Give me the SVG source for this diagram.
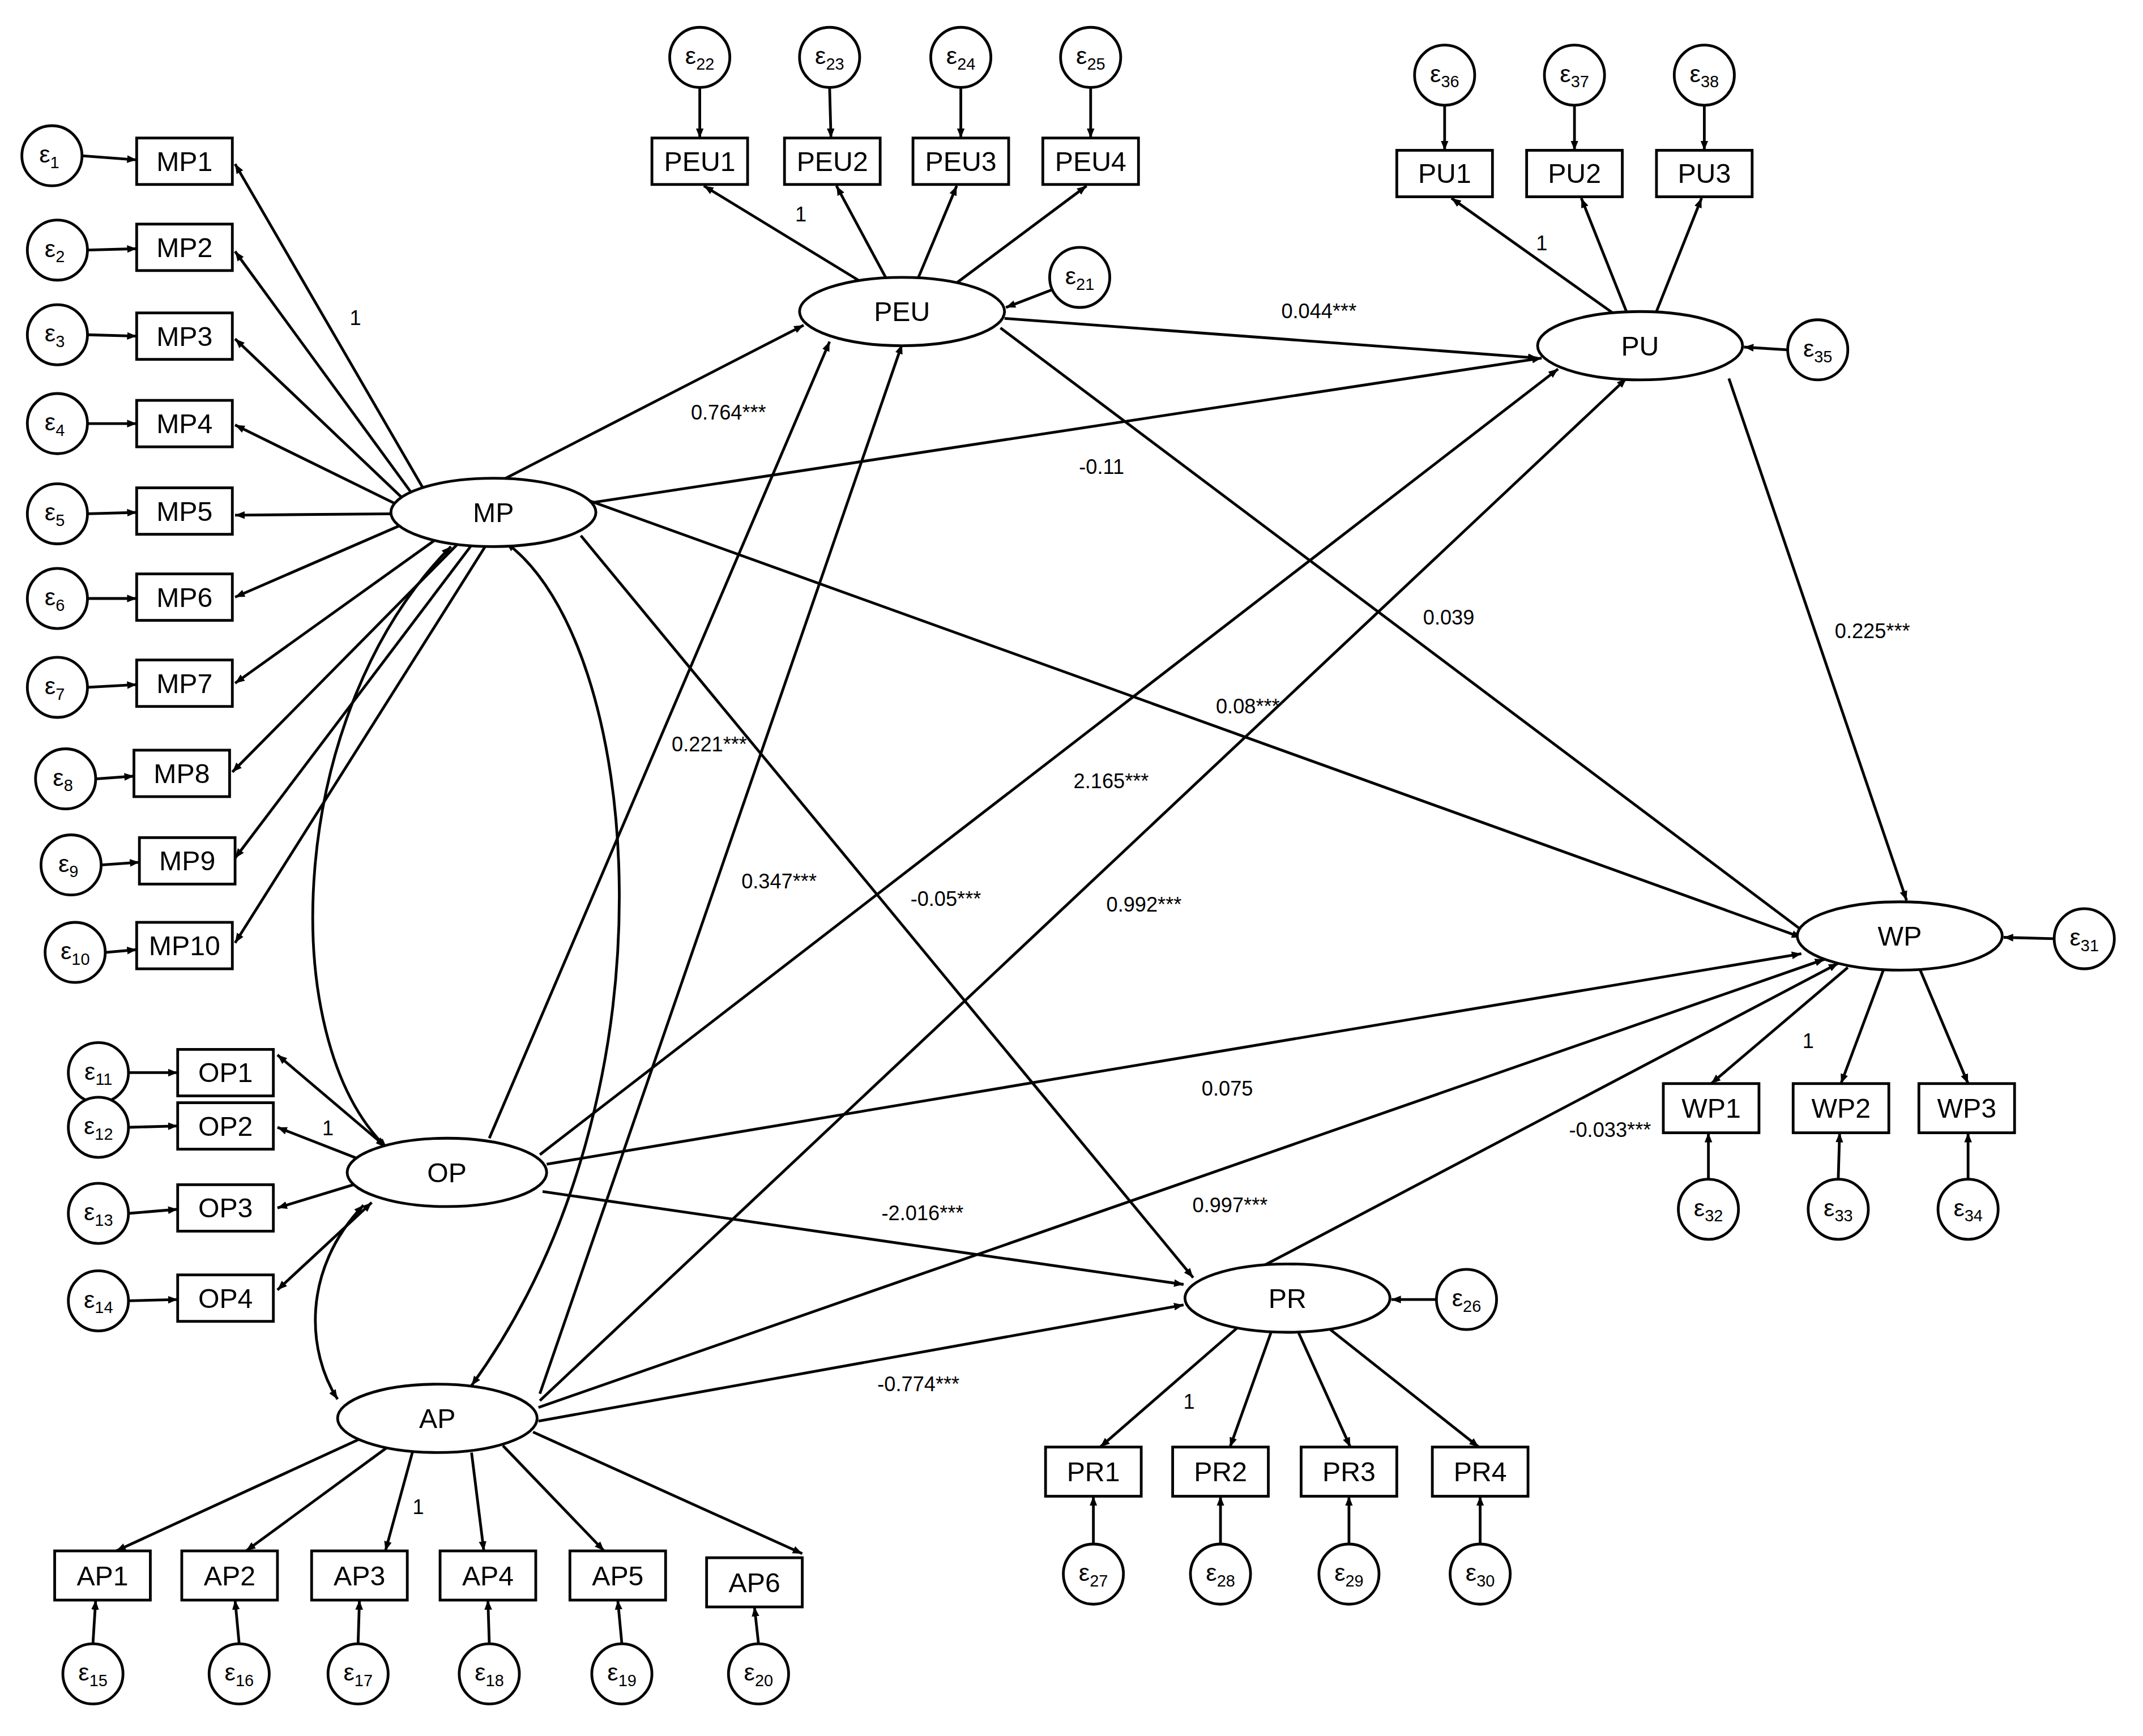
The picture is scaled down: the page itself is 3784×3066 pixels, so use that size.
<svg xmlns="http://www.w3.org/2000/svg" width="3784" height="3066" viewBox="0 0 3784 3066">
<style>
.n{fill:#fff;stroke:#000;stroke-width:2}
.t{font-family:"Liberation Sans",Arial,sans-serif;font-size:20px;text-anchor:middle;dominant-baseline:central}
.e{font-family:"Liberation Sans",Arial,sans-serif;font-size:18px;text-anchor:middle}
.s{font-size:12px}
.l{font-family:"Liberation Sans",Arial,sans-serif;font-size:15px;text-anchor:middle}
.c path,.c line{fill:none;stroke:#000;stroke-width:2;marker-end:url(#a)}
.c .d{marker-start:url(#b)}
</style>
<defs>
<marker id="a" viewBox="0 0 10 10" refX="10" refY="5" markerWidth="7" markerHeight="7" orient="auto" markerUnits="userSpaceOnUse"><path d="M0,1 L10,5 L0,9 z"/></marker>
<marker id="b" viewBox="0 0 10 10" refX="0" refY="5" markerWidth="7" markerHeight="7" orient="auto" markerUnits="userSpaceOnUse"><path d="M10,1 L0,5 L10,9 z"/></marker>
</defs>
<rect width="3784" height="3066" fill="#fff"/>
<g transform="scale(2.4133)">
<g class="c" id="connectors">
<!-- MP indicators -->
<line x1="310" y1="358" x2="172" y2="120"/>
<line x1="302" y1="362" x2="172" y2="184"/>
<line x1="296" y1="366" x2="172" y2="248"/>
<line x1="292" y1="370" x2="172" y2="311"/>
<line x1="290" y1="376" x2="172" y2="377"/>
<line x1="294" y1="384" x2="172" y2="437"/>
<line x1="320" y1="394" x2="172" y2="500"/>
<line x1="335" y1="398" x2="170" y2="565"/>
<line x1="345" y1="399" x2="172" y2="628"/>
<line x1="355" y1="400" x2="172" y2="690"/>
<!-- epsilon to MP boxes -->
<line x1="60" y1="114" x2="100" y2="117"/>
<line x1="64" y1="183" x2="100" y2="182"/>
<line x1="64" y1="245" x2="100" y2="246"/>
<line x1="64" y1="310" x2="100" y2="310"/>
<line x1="64" y1="376" x2="100" y2="375"/>
<line x1="64" y1="438" x2="100" y2="438"/>
<line x1="64" y1="503" x2="100" y2="501"/>
<line x1="70" y1="570" x2="98" y2="568"/>
<line x1="74" y1="633" x2="102" y2="631"/>
<line x1="77" y1="697" x2="100" y2="695"/>
<!-- OP -->
<line x1="94" y1="785" x2="130" y2="785"/>
<line x1="94" y1="825" x2="130" y2="824"/>
<line x1="94" y1="888" x2="130" y2="885"/>
<line x1="94" y1="952" x2="130" y2="951"/>
<line class="d" x1="203" y1="772" x2="282" y2="839"/>
<line x1="262" y1="848" x2="203" y2="825"/>
<line x1="262" y1="866" x2="203" y2="884"/>
<line class="d" x1="203" y1="944" x2="272" y2="880"/>
<!-- AP -->
<line x1="270" y1="1050" x2="85" y2="1135"/>
<line x1="285" y1="1058" x2="180" y2="1135"/>
<line x1="302" y1="1062" x2="282" y2="1135"/>
<line x1="345" y1="1063" x2="354" y2="1135"/>
<line x1="368" y1="1058" x2="442" y2="1135"/>
<line x1="390" y1="1048" x2="587" y2="1137"/>
<line x1="68" y1="1203" x2="70" y2="1171"/>
<line x1="175" y1="1203" x2="172" y2="1171"/>
<line x1="262" y1="1203" x2="263" y2="1171"/>
<line x1="358" y1="1203" x2="357" y2="1171"/>
<line x1="455" y1="1203" x2="452" y2="1171"/>
<line x1="555" y1="1203" x2="552" y2="1176"/>
<!-- PEU -->
<line x1="628" y1="205" x2="515" y2="136"/>
<line x1="648" y1="203" x2="612" y2="136"/>
<line x1="672" y1="203" x2="700" y2="136"/>
<line x1="700" y1="207" x2="795" y2="136"/>
<line x1="512" y1="64" x2="512" y2="101"/>
<line x1="607" y1="64" x2="608" y2="101"/>
<line x1="703" y1="64" x2="703" y2="101"/>
<line x1="798" y1="64" x2="798" y2="101"/>
<line x1="770" y1="212" x2="736" y2="225"/>
<!-- PU -->
<line x1="1180" y1="229" x2="1062" y2="145"/>
<line x1="1190" y1="228" x2="1157" y2="145"/>
<line x1="1212" y1="228" x2="1245" y2="145"/>
<line x1="1057" y1="77" x2="1057" y2="110"/>
<line x1="1152" y1="77" x2="1152" y2="110"/>
<line x1="1247" y1="77" x2="1247" y2="110"/>
<line x1="1308" y1="256" x2="1276" y2="254"/>
<!-- WP -->
<line x1="1352" y1="708" x2="1252" y2="793"/>
<line x1="1378" y1="710" x2="1347" y2="793"/>
<line x1="1405" y1="710" x2="1440" y2="793"/>
<line x1="1250" y1="863" x2="1250" y2="829"/>
<line x1="1345" y1="863" x2="1346" y2="829"/>
<line x1="1440" y1="863" x2="1440" y2="829"/>
<line x1="1503" y1="687" x2="1466" y2="686"/>
<!-- PR -->
<line x1="905" y1="972" x2="805" y2="1059"/>
<line x1="930" y1="975" x2="900" y2="1059"/>
<line x1="950" y1="975" x2="988" y2="1059"/>
<line x1="972" y1="972" x2="1082" y2="1059"/>
<line x1="800" y1="1130" x2="800" y2="1095"/>
<line x1="893" y1="1130" x2="893" y2="1095"/>
<line x1="987" y1="1130" x2="987" y2="1095"/>
<line x1="1083" y1="1130" x2="1083" y2="1095"/>
<line x1="1051" y1="951" x2="1018" y2="951"/>
<!-- structural -->
<line x1="368" y1="351" x2="588" y2="238"/>
<line x1="432" y1="368" x2="1128" y2="262"/>
<line x1="430" y1="366" x2="1318" y2="686"/>
<line x1="425" y1="392" x2="873" y2="935"/>
<line x1="735" y1="233" x2="1125" y2="262"/>
<line x1="732" y1="240" x2="1328" y2="688"/>
<line x1="1265" y1="277" x2="1395" y2="659"/>
<line x1="358" y1="833" x2="607" y2="250"/>
<line x1="395" y1="1020" x2="660" y2="252"/>
<line x1="395" y1="845" x2="1140" y2="270"/>
<line x1="395" y1="1025" x2="1190" y2="277"/>
<line x1="400" y1="852" x2="1318" y2="698"/>
<line x1="397" y1="872" x2="866" y2="940"/>
<line x1="394" y1="1030" x2="1335" y2="702"/>
<line x1="394" y1="1040" x2="866" y2="955"/>
<line x1="925" y1="926" x2="1345" y2="705"/>
<!-- covariances -->
<path class="d" d="M330,400 C210,520 200,760 283,840"/>
<path class="d" d="M266,882 C220,930 225,990 247,1024"/>
<path class="d" d="M370,397 C470,470 500,800 345,1014"/>
</g>
<g id="labels" class="l">
<text x="260" y="238">1</text>
<text x="533" y="307">0.764***</text>
<text x="806" y="347">-0.11</text>
<text x="913" y="522">0.08***</text>
<text x="692" y="663">-0.05***</text>
<text x="965" y="233">0.044***</text>
<text x="1060" y="457">0.039</text>
<text x="1370" y="467">0.225***</text>
<text x="519" y="550">0.221***</text>
<text x="570" y="650">0.347***</text>
<text x="813" y="577">2.165***</text>
<text x="837" y="667">0.992***</text>
<text x="898" y="802">0.075</text>
<text x="675" y="893">-2.016***</text>
<text x="900" y="887">0.997***</text>
<text x="672" y="1018">-0.774***</text>
<text x="1178" y="832">-0.033***</text>
<text x="240" y="831">1</text>
<text x="306" y="1108">1</text>
<text x="586" y="162">1</text>
<text x="1128" y="183">1</text>
<text x="1323" y="767">1</text>
<text x="870" y="1031">1</text>
</g>
<g id="MP"><ellipse class="n" cx="361" cy="375" rx="75" ry="25"/><text class="t" x="361" y="375">MP</text></g>
<g id="PEU"><ellipse class="n" cx="660" cy="228" rx="75" ry="25"/><text class="t" x="660" y="228">PEU</text></g>
<g id="PU"><ellipse class="n" cx="1200" cy="253" rx="75" ry="25"/><text class="t" x="1200" y="253">PU</text></g>
<g id="WP"><ellipse class="n" cx="1390" cy="685" rx="75" ry="25"/><text class="t" x="1390" y="685">WP</text></g>
<g id="OP"><ellipse class="n" cx="327" cy="858" rx="73" ry="25"/><text class="t" x="327" y="858">OP</text></g>
<g id="AP"><ellipse class="n" cx="320" cy="1038" rx="73" ry="25"/><text class="t" x="320" y="1038">AP</text></g>
<g id="PR"><ellipse class="n" cx="942" cy="950" rx="75" ry="25"/><text class="t" x="942" y="950">PR</text></g>
<g id="MP1"><rect class="n" x="100" y="101" width="70" height="34"/><text class="t" x="135" y="118">MP1</text></g>
<g id="MP2"><rect class="n" x="100" y="164" width="70" height="34"/><text class="t" x="135" y="181">MP2</text></g>
<g id="MP3"><rect class="n" x="100" y="229" width="70" height="34"/><text class="t" x="135" y="246">MP3</text></g>
<g id="MP4"><rect class="n" x="100" y="293" width="70" height="34"/><text class="t" x="135" y="310">MP4</text></g>
<g id="MP5"><rect class="n" x="100" y="357" width="70" height="34"/><text class="t" x="135" y="374">MP5</text></g>
<g id="MP6"><rect class="n" x="100" y="420" width="70" height="34"/><text class="t" x="135" y="437">MP6</text></g>
<g id="MP7"><rect class="n" x="100" y="483" width="70" height="34"/><text class="t" x="135" y="500">MP7</text></g>
<g id="MP8"><rect class="n" x="98" y="549" width="70" height="34"/><text class="t" x="133" y="566">MP8</text></g>
<g id="MP9"><rect class="n" x="102" y="613" width="70" height="34"/><text class="t" x="137" y="630">MP9</text></g>
<g id="MP10"><rect class="n" x="100" y="675" width="70" height="34"/><text class="t" x="135" y="692">MP10</text></g>
<g id="OP1"><rect class="n" x="130" y="768" width="70" height="34"/><text class="t" x="165" y="785">OP1</text></g>
<g id="OP2"><rect class="n" x="130" y="807" width="70" height="34"/><text class="t" x="165" y="824">OP2</text></g>
<g id="OP3"><rect class="n" x="130" y="867" width="70" height="34"/><text class="t" x="165" y="884">OP3</text></g>
<g id="OP4"><rect class="n" x="130" y="933" width="70" height="34"/><text class="t" x="165" y="950">OP4</text></g>
<g id="AP1"><rect class="n" x="40" y="1135" width="70" height="36"/><text class="t" x="75" y="1153">AP1</text></g>
<g id="AP2"><rect class="n" x="133" y="1135" width="70" height="36"/><text class="t" x="168" y="1153">AP2</text></g>
<g id="AP3"><rect class="n" x="228" y="1135" width="70" height="36"/><text class="t" x="263" y="1153">AP3</text></g>
<g id="AP4"><rect class="n" x="322" y="1135" width="70" height="36"/><text class="t" x="357" y="1153">AP4</text></g>
<g id="AP5"><rect class="n" x="417" y="1135" width="70" height="36"/><text class="t" x="452" y="1153">AP5</text></g>
<g id="AP6"><rect class="n" x="517" y="1140" width="70" height="36"/><text class="t" x="552" y="1158">AP6</text></g>
<g id="PEU1"><rect class="n" x="477" y="101" width="70" height="34"/><text class="t" x="512" y="118">PEU1</text></g>
<g id="PEU2"><rect class="n" x="574" y="101" width="70" height="34"/><text class="t" x="609" y="118">PEU2</text></g>
<g id="PEU3"><rect class="n" x="668" y="101" width="70" height="34"/><text class="t" x="703" y="118">PEU3</text></g>
<g id="PEU4"><rect class="n" x="763" y="101" width="70" height="34"/><text class="t" x="798" y="118">PEU4</text></g>
<g id="PU1"><rect class="n" x="1022" y="110" width="70" height="34"/><text class="t" x="1057" y="127">PU1</text></g>
<g id="PU2"><rect class="n" x="1117" y="110" width="70" height="34"/><text class="t" x="1152" y="127">PU2</text></g>
<g id="PU3"><rect class="n" x="1212" y="110" width="70" height="34"/><text class="t" x="1247" y="127">PU3</text></g>
<g id="WP1"><rect class="n" x="1217" y="793" width="70" height="36"/><text class="t" x="1252" y="811">WP1</text></g>
<g id="WP2"><rect class="n" x="1312" y="793" width="70" height="36"/><text class="t" x="1347" y="811">WP2</text></g>
<g id="WP3"><rect class="n" x="1404" y="793" width="70" height="36"/><text class="t" x="1439" y="811">WP3</text></g>
<g id="PR1"><rect class="n" x="765" y="1059" width="70" height="36"/><text class="t" x="800" y="1077">PR1</text></g>
<g id="PR2"><rect class="n" x="858" y="1059" width="70" height="36"/><text class="t" x="893" y="1077">PR2</text></g>
<g id="PR3"><rect class="n" x="952" y="1059" width="70" height="36"/><text class="t" x="987" y="1077">PR3</text></g>
<g id="PR4"><rect class="n" x="1048" y="1059" width="70" height="36"/><text class="t" x="1083" y="1077">PR4</text></g>
<g id="e1"><circle class="n" cx="38" cy="114" r="22"/><text class="e" x="36" y="119">ε<tspan class="s" dy="4">1</tspan></text></g>
<g id="e2"><circle class="n" cx="42" cy="183" r="22"/><text class="e" x="40" y="188">ε<tspan class="s" dy="4">2</tspan></text></g>
<g id="e3"><circle class="n" cx="42" cy="245" r="22"/><text class="e" x="40" y="250">ε<tspan class="s" dy="4">3</tspan></text></g>
<g id="e4"><circle class="n" cx="42" cy="310" r="22"/><text class="e" x="40" y="315">ε<tspan class="s" dy="4">4</tspan></text></g>
<g id="e5"><circle class="n" cx="42" cy="376" r="22"/><text class="e" x="40" y="381">ε<tspan class="s" dy="4">5</tspan></text></g>
<g id="e6"><circle class="n" cx="42" cy="438" r="22"/><text class="e" x="40" y="443">ε<tspan class="s" dy="4">6</tspan></text></g>
<g id="e7"><circle class="n" cx="42" cy="503" r="22"/><text class="e" x="40" y="508">ε<tspan class="s" dy="4">7</tspan></text></g>
<g id="e8"><circle class="n" cx="48" cy="570" r="22"/><text class="e" x="46" y="575">ε<tspan class="s" dy="4">8</tspan></text></g>
<g id="e9"><circle class="n" cx="52" cy="633" r="22"/><text class="e" x="50" y="638">ε<tspan class="s" dy="4">9</tspan></text></g>
<g id="e10"><circle class="n" cx="55" cy="697" r="22"/><text class="e" x="55" y="702">ε<tspan class="s" dy="4">10</tspan></text></g>
<g id="e11"><circle class="n" cx="72" cy="785" r="22"/><text class="e" x="72" y="790">ε<tspan class="s" dy="4">11</tspan></text></g>
<g id="e12"><circle class="n" cx="72" cy="825" r="22"/><text class="e" x="72" y="830">ε<tspan class="s" dy="4">12</tspan></text></g>
<g id="e13"><circle class="n" cx="72" cy="888" r="22"/><text class="e" x="72" y="893">ε<tspan class="s" dy="4">13</tspan></text></g>
<g id="e14"><circle class="n" cx="72" cy="952" r="22"/><text class="e" x="72" y="957">ε<tspan class="s" dy="4">14</tspan></text></g>
<g id="e15"><circle class="n" cx="68" cy="1225" r="22"/><text class="e" x="68" y="1230">ε<tspan class="s" dy="4">15</tspan></text></g>
<g id="e16"><circle class="n" cx="175" cy="1225" r="22"/><text class="e" x="175" y="1230">ε<tspan class="s" dy="4">16</tspan></text></g>
<g id="e17"><circle class="n" cx="262" cy="1225" r="22"/><text class="e" x="262" y="1230">ε<tspan class="s" dy="4">17</tspan></text></g>
<g id="e18"><circle class="n" cx="358" cy="1225" r="22"/><text class="e" x="358" y="1230">ε<tspan class="s" dy="4">18</tspan></text></g>
<g id="e19"><circle class="n" cx="455" cy="1225" r="22"/><text class="e" x="455" y="1230">ε<tspan class="s" dy="4">19</tspan></text></g>
<g id="e20"><circle class="n" cx="555" cy="1225" r="22"/><text class="e" x="555" y="1230">ε<tspan class="s" dy="4">20</tspan></text></g>
<g id="e21"><circle class="n" cx="790" cy="203" r="22"/><text class="e" x="790" y="208">ε<tspan class="s" dy="4">21</tspan></text></g>
<g id="e22"><circle class="n" cx="512" cy="42" r="22"/><text class="e" x="512" y="47">ε<tspan class="s" dy="4">22</tspan></text></g>
<g id="e23"><circle class="n" cx="607" cy="42" r="22"/><text class="e" x="607" y="47">ε<tspan class="s" dy="4">23</tspan></text></g>
<g id="e24"><circle class="n" cx="703" cy="42" r="22"/><text class="e" x="703" y="47">ε<tspan class="s" dy="4">24</tspan></text></g>
<g id="e25"><circle class="n" cx="798" cy="42" r="22"/><text class="e" x="798" y="47">ε<tspan class="s" dy="4">25</tspan></text></g>
<g id="e26"><circle class="n" cx="1073" cy="951" r="22"/><text class="e" x="1073" y="956">ε<tspan class="s" dy="4">26</tspan></text></g>
<g id="e27"><circle class="n" cx="800" cy="1152" r="22"/><text class="e" x="800" y="1157">ε<tspan class="s" dy="4">27</tspan></text></g>
<g id="e28"><circle class="n" cx="893" cy="1152" r="22"/><text class="e" x="893" y="1157">ε<tspan class="s" dy="4">28</tspan></text></g>
<g id="e29"><circle class="n" cx="987" cy="1152" r="22"/><text class="e" x="987" y="1157">ε<tspan class="s" dy="4">29</tspan></text></g>
<g id="e30"><circle class="n" cx="1083" cy="1152" r="22"/><text class="e" x="1083" y="1157">ε<tspan class="s" dy="4">30</tspan></text></g>
<g id="e31"><circle class="n" cx="1525" cy="687" r="22"/><text class="e" x="1525" y="692">ε<tspan class="s" dy="4">31</tspan></text></g>
<g id="e32"><circle class="n" cx="1250" cy="885" r="22"/><text class="e" x="1250" y="890">ε<tspan class="s" dy="4">32</tspan></text></g>
<g id="e33"><circle class="n" cx="1345" cy="885" r="22"/><text class="e" x="1345" y="890">ε<tspan class="s" dy="4">33</tspan></text></g>
<g id="e34"><circle class="n" cx="1440" cy="885" r="22"/><text class="e" x="1440" y="890">ε<tspan class="s" dy="4">34</tspan></text></g>
<g id="e35"><circle class="n" cx="1330" cy="256" r="22"/><text class="e" x="1330" y="261">ε<tspan class="s" dy="4">35</tspan></text></g>
<g id="e36"><circle class="n" cx="1057" cy="55" r="22"/><text class="e" x="1057" y="60">ε<tspan class="s" dy="4">36</tspan></text></g>
<g id="e37"><circle class="n" cx="1152" cy="55" r="22"/><text class="e" x="1152" y="60">ε<tspan class="s" dy="4">37</tspan></text></g>
<g id="e38"><circle class="n" cx="1247" cy="55" r="22"/><text class="e" x="1247" y="60">ε<tspan class="s" dy="4">38</tspan></text></g>
</g>
</svg>
